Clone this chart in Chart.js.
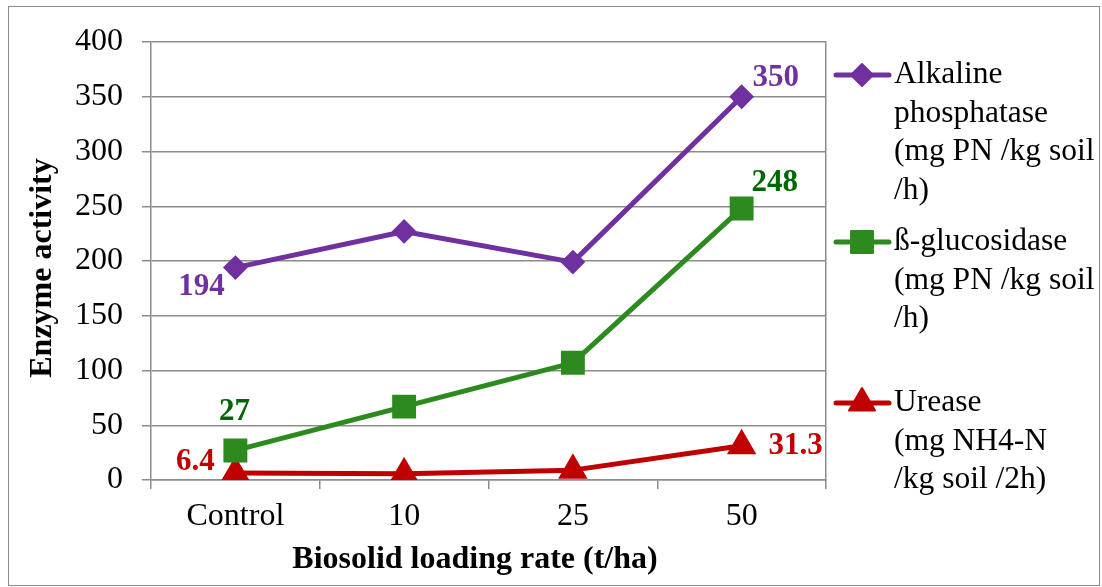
<!DOCTYPE html>
<html>
<head>
<meta charset="utf-8">
<script src="https://cdn.jsdelivr.net/npm/chart.js@4.4.0/dist/chart.umd.min.js"></script>
<style>
html,body{margin:0;padding:0;background:#fff;}
#wrap{width:1102px;height:587px;position:relative;}
</style>
</head>
<body>
<div id="wrap"><canvas id="c" width="1102" height="587"></canvas></div>
<script>
// ---- data ----
const categories = ['Control', '10', '25', '50'];
const alkalinePhosphatase = [194, 227, 199, 350];
const betaGlucosidase = [27, 67, 107, 248];
const urease = [6.4, 5.8, 9, 31.3];
const yMin = 0, yMax = 400, yStep = 50;
const legendTexts = [
  ['Alkaline', 'phosphatase', '(mg PN /kg soil', '/h)'],
  ['ß-glucosidase', '(mg PN /kg soil', '/h)'],
  ['Urease', '(mg NH4-N', '/kg soil /2h)']
];
const labelledIndices = [[0, 3], [0, 3], [0, 3]];
const xTitle = 'Biosolid loading rate (t/ha)';
const yTitle = 'Enzyme activity';

// ---- styles ----
const FONT = "'Liberation Serif', 'Times New Roman', serif";
const GRID = '#8c8c8c';
const purple = '#7030A0', green = '#2D8A1F', red = '#C00000';
const labelColors = ['#7030A0', '#006600', '#C00000'];
const labelOffsets = [
  {0: [-34, 19], 3: [34, -19]},
  {0: [-1, -38], 3: [33, -25]},
  {0: [-40, -11], 3: [54, 0]}
];

const frame = {
  id: 'frame',
  beforeDraw(chart) {
    const ctx = chart.ctx;
    ctx.save();
    ctx.fillStyle = '#fff';
    ctx.fillRect(0, 0, chart.width, chart.height);
    ctx.strokeStyle = GRID;
    ctx.lineWidth = 1;
    ctx.strokeRect(8.5, 6.5, 1091, 579);
    ctx.restore();
  },
  afterDraw(chart) {
    const ctx = chart.ctx;
    ctx.save();
    ctx.fillStyle = '#000';
    ctx.font = 'bold 32px ' + FONT;
    ctx.textAlign = 'center';
    ctx.textBaseline = 'middle';
    ctx.fillText(xTitle, 475, 560);
    ctx.translate(43, 268);
    ctx.rotate(-Math.PI / 2);
    ctx.fillText(yTitle, 0, 0);
    ctx.restore();
  }
};

const dataLabels = {
  id: 'dataLabels',
  afterDatasetsDraw(chart) {
    const ctx = chart.ctx;
    ctx.save();
    ctx.font = 'bold 31px ' + FONT;
    ctx.textAlign = 'center';
    ctx.textBaseline = 'middle';
    chart.data.datasets.forEach((ds, di) => {
      const meta = chart.getDatasetMeta(di);
      labelledIndices[di].forEach(i => {
        const el = meta.data[i];
        const off = labelOffsets[di][i];
        ctx.fillStyle = labelColors[di];
        ctx.fillText(String(ds.data[i]), el.x + off[0], el.y + off[1]);
      });
    });
    ctx.restore();
  }
};

function marker(ctx, style, r, bw, x, y) {
  if (Chart.helpers && Chart.helpers.drawPoint) {
    Chart.helpers.drawPoint(ctx, {pointStyle: style, radius: r, borderWidth: bw, rotation: 0}, x, y);
    return;
  }
  ctx.beginPath();
  if (style === 'rectRot') {
    ctx.moveTo(x - r, y); ctx.lineTo(x, y - r); ctx.lineTo(x + r, y); ctx.lineTo(x, y + r);
  } else if (style === 'rect') {
    const s = Math.SQRT1_2 * r; ctx.rect(x - s, y - s, 2 * s, 2 * s);
  } else {
    for (let k = 0; k < 3; k++) {
      const a = k * 2 * Math.PI / 3;
      const px = x + Math.sin(a) * r, py = y - Math.cos(a) * r;
      k ? ctx.lineTo(px, py) : ctx.moveTo(px, py);
    }
  }
  ctx.closePath(); ctx.fill(); if (bw > 0) ctx.stroke();
}

const sideLegend = {
  id: 'sideLegend',
  afterDraw(chart) {
    const ctx = chart.ctx;
    const tops = [75, 242, 403];
    const lh = 38.5;
    ctx.save();
    chart.data.datasets.forEach((ds, di) => {
      const y = tops[di];
      ctx.strokeStyle = ds.borderColor;
      ctx.lineWidth = ds.borderWidth;
      ctx.lineCap = 'round';
      ctx.beginPath(); ctx.moveTo(836, y); ctx.lineTo(889, y); ctx.stroke();
      ctx.fillStyle = ds.pointBackgroundColor;
      ctx.strokeStyle = ds.pointBorderColor;
      ctx.lineWidth = ds.pointBorderWidth;
      ctx.lineJoin = 'round';
      marker(ctx, ds.pointStyle, ds.pointRadius, ds.pointBorderWidth, 862, y);
      ctx.fillStyle = '#000';
      ctx.font = '31.5px ' + FONT;
      ctx.textAlign = 'left';
      ctx.textBaseline = 'middle';
      legendTexts[di].forEach((t, li) => ctx.fillText(t, 894, y + li * lh));
    });
    ctx.restore();
  }
};

function series(data, color, style, radius) {
  return {
    data: data,
    borderColor: color,
    backgroundColor: color,
    borderWidth: 5,
    borderJoinStyle: 'round',
    borderCapStyle: 'round',
    tension: 0,
    pointStyle: style,
    pointRadius: radius,
    pointHoverRadius: radius,
    pointBackgroundColor: color,
    pointBorderColor: color,
    pointBorderWidth: 2,
    fill: false
  };
}

new Chart(document.getElementById('c'), {
  type: 'line',
  data: {
    labels: categories,
    datasets: [
      series(alkalinePhosphatase, purple, 'rectRot', 11),
      series(betaGlucosidase, green, 'rect', 15.5),
      series(urease, red, 'triangle', 15)
    ]
  },
  options: {
    responsive: false,
    devicePixelRatio: 1,
    animation: false,
    events: [],
    layout: {padding: {left: 0, right: 276, top: 42, bottom: 0}},
    plugins: {legend: {display: false}, tooltip: {enabled: false}},
    scales: {
      x: {
        type: 'category',
        offset: true,
        grid: {display: true, offset: true, drawOnChartArea: false, drawTicks: true, tickLength: 9, color: GRID, lineWidth: 1.5},
        border: {display: true, color: GRID, width: 1.5},
        ticks: {font: {family: FONT, size: 32}, color: '#000', padding: 8, maxRotation: 0, autoSkip: false},
        afterFit(s) { s.height = 107; }
      },
      y: {
        min: yMin, max: yMax,
        ticks: {stepSize: yStep, font: {family: FONT, size: 32}, color: '#000', padding: 19},
        grid: {color: GRID, lineWidth: 1.5, drawTicks: true, tickLength: 9},
        border: {display: true, color: GRID, width: 1.5},
        afterFit(s) { s.width = 151; }
      },
      y2: {
        position: 'right',
        min: yMin, max: yMax,
        display: true,
        grid: {display: false, drawTicks: false},
        ticks: {display: false},
        border: {display: true, color: GRID, width: 1.5},
        afterFit(s) { s.width = 0; }
      }
    }
  },
  plugins: [frame, dataLabels, sideLegend]
});
</script>
</body>
</html>
